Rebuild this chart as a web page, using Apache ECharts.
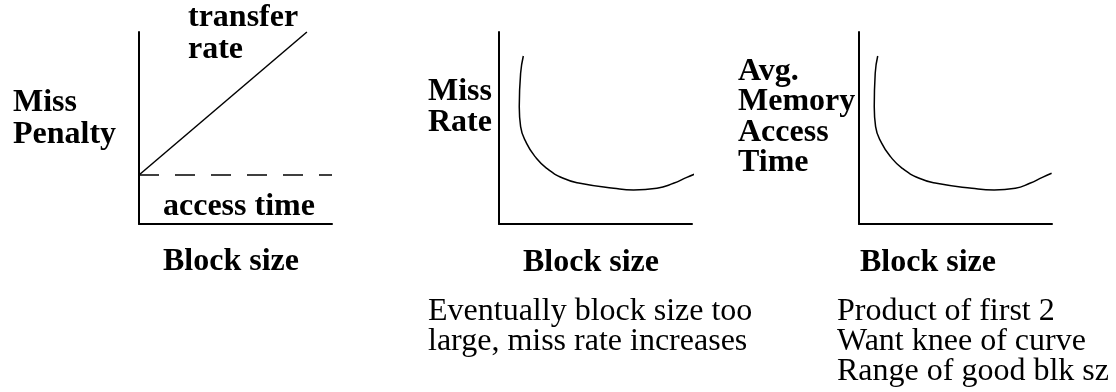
<!DOCTYPE html>
<html><head><meta charset="utf-8">
<script src="https://cdn.jsdelivr.net/npm/echarts@6/dist/echarts.min.js"></script>
<style>html,body{margin:0;padding:0;background:#fff}#c{width:1116px;height:392px}</style>
</head><body><div id="c"></div>
<script>
// ---- data ----
const transferRate = [[0, 2.55], [8.7, 10]];
const accessTime = [[0, 2.55], [10, 2.55]];
const missRate = [[1.26, 8.75], [1.12, 7.85], [1.05, 6.11], [1.12, 5.07], [1.43, 4.20], [1.87, 3.51], [2.47, 2.90], [3.33, 2.38], [4.20, 2.12], [5.94, 1.86], [6.97, 1.77], [8.18, 1.86], [9.04, 2.12], [9.73, 2.43], [10.25, 2.64]];
const avgMemAccess = [[0.97, 8.75], [0.84, 7.85], [0.79, 6.11], [0.86, 5.07], [1.18, 4.20], [1.63, 3.51], [2.24, 2.90], [3.12, 2.38], [4.02, 2.12], [5.85, 1.86], [7.0, 1.77], [8.1, 1.86], [8.85, 2.12], [9.5, 2.43], [9.98, 2.64]];
const yTitles = [['Miss', 'Penalty'], ['Miss', 'Rate'], ['Avg.', 'Memory', 'Access', 'Time']];
const xTitle = 'Block size';
const transferLabel = ['transfer', 'rate'];
const accessLabel = 'access time';
const notes2 = ['Eventually block size too', 'large, miss rate increases'];
const notes3 = ['Product of first 2', 'Want knee of curve', 'Range of good blk sz'];

// ---- layout ----
const BOLD = 'bold 32px "Liberation Serif"';
const REG = '32px "Liberation Serif"';
const gridLefts = [139, 499, 859];
const OFF = 10; // baseline -> middle

function txt(s, x, baseline, font) {
  return { type: 'text', x: x, y: baseline - OFF, silent: true,
    style: { text: s, font: font, fill: '#000', align: 'left', verticalAlign: 'middle' } };
}
const graphics = [];
// chart 1
graphics.push(txt(yTitles[0][0], 13, 113, BOLD), txt(yTitles[0][1], 13, 145, BOLD));
graphics.push(txt(transferLabel[0], 188, 28, BOLD), txt(transferLabel[1], 188, 60, BOLD));
graphics.push(txt(accessLabel, 163, 217, BOLD));
graphics.push(txt(xTitle, 163, 272, BOLD));
// chart 2
graphics.push(txt(yTitles[1][0], 428, 102, BOLD), txt(yTitles[1][1], 428, 133, BOLD));
graphics.push(txt(xTitle, 523, 273, BOLD));
notes2.forEach((s, i) => graphics.push(txt(s, 428, 322 + i * 30, REG)));
// chart 3
[82, 112, 143, 173].forEach((b, i) => graphics.push(txt(yTitles[2][i], 738, b, BOLD)));
graphics.push(txt(xTitle, 860, 273, BOLD));
notes3.forEach((s, i) => graphics.push(txt(s, 837, 322 + i * 30, REG)));

const axisCommon = {
  type: 'value', min: 0, max: 10,
  axisLine: { show: true, onZero: false, lineStyle: { color: '#000', width: 2 } },
  axisTick: { show: false }, axisLabel: { show: false }, splitLine: { show: false }
};
const option = {
  animation: false,
  backgroundColor: '#fff',
  grid: gridLefts.map(l => ({ left: l, top: 32, width: 193, height: 192 })),
  xAxis: gridLefts.map((l, i) => Object.assign({ gridIndex: i }, axisCommon)),
  yAxis: gridLefts.map((l, i) => Object.assign({ gridIndex: i }, axisCommon)),
  series: [
    { type: 'line', xAxisIndex: 0, yAxisIndex: 0, data: transferRate, symbol: 'none', clip: false,
      lineStyle: { color: '#000', width: 1.5 } },
    { type: 'line', xAxisIndex: 0, yAxisIndex: 0, data: accessTime, symbol: 'none', clip: false,
      lineStyle: { color: '#000', width: 1.5, type: [20, 16] } },
    { type: 'line', xAxisIndex: 1, yAxisIndex: 1, data: missRate, symbol: 'none', clip: false, smooth: 0.5,
      lineStyle: { color: '#000', width: 1.5 } },
    { type: 'line', xAxisIndex: 2, yAxisIndex: 2, data: avgMemAccess, symbol: 'none', clip: false, smooth: 0.5,
      lineStyle: { color: '#000', width: 1.5 } }
  ],
  graphic: graphics
};
const chart = echarts.init(document.getElementById('c'), null, { renderer: 'canvas' });
chart.setOption(option);
</script></body></html>
